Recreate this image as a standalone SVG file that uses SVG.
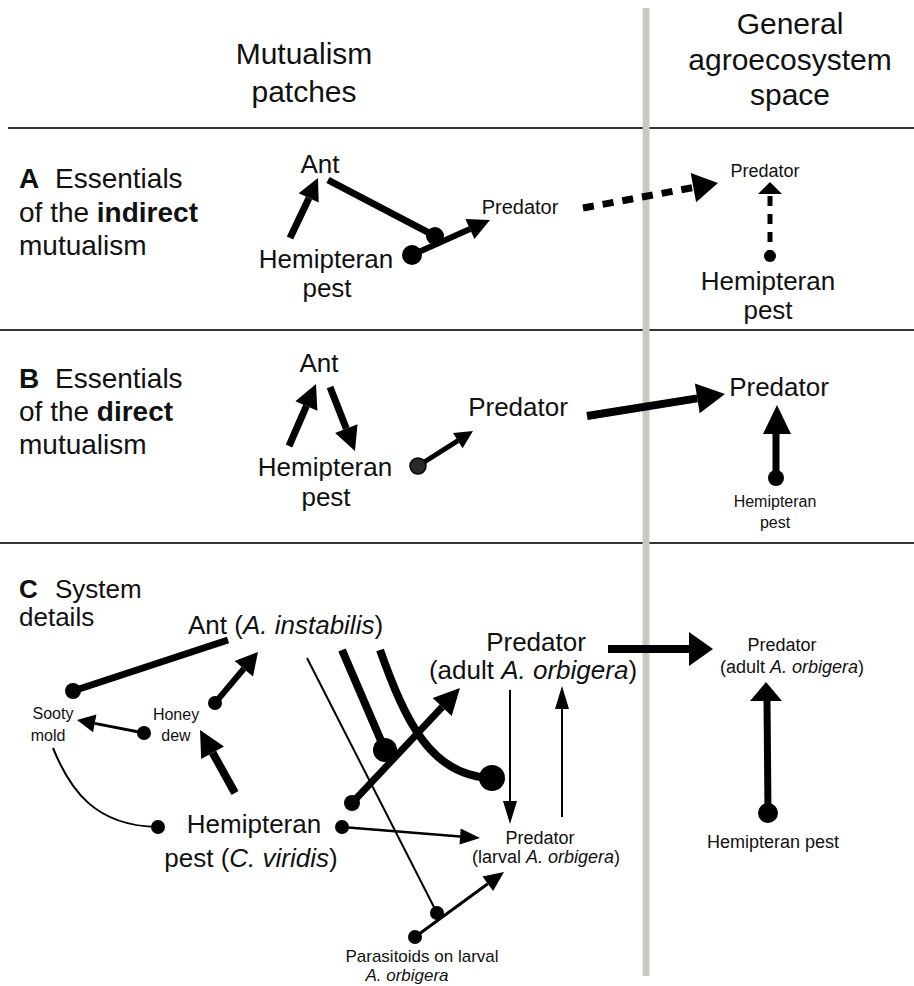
<svg xmlns="http://www.w3.org/2000/svg" width="914" height="986" viewBox="0 0 914 986">
<style>
text{font-family:"Liberation Sans",Arial,sans-serif;fill:#111}
.h{font-size:30px;text-anchor:middle}
.lab{font-size:28px}
.n26{font-size:26px;text-anchor:middle}
.n20{font-size:20px;text-anchor:middle}
.n18{font-size:18px;text-anchor:middle}
.n17{font-size:17px;text-anchor:middle}
.n16{font-size:16px;text-anchor:middle}
.b{font-weight:bold}
.sep{stroke:#333;stroke-width:2}
.ln{stroke:#000;fill:none;stroke-linecap:butt}
.hd{fill:#000}
</style>
<rect width="914" height="986" fill="#fff"/>
<g id="grid">
<line class="sep" x1="8" y1="128" x2="914" y2="128"/>
<line class="sep" x1="0" y1="330" x2="914" y2="330"/>
<line class="sep" x1="0" y1="543" x2="914" y2="543"/>
<line x1="646" y1="8" x2="646" y2="976" stroke="#cbc7c3" stroke-width="7"/>
</g>
<g id="headers">
<text class="h" x="304" y="64">Mutualism</text>
<text class="h" x="304" y="102">patches</text>
<text class="h" x="790" y="34">General</text>
<text class="h" x="790" y="70">agroecosystem</text>
<text class="h" x="790" y="105">space</text>
</g>
<g id="labelA">
<text class="lab b" x="19" y="188">A</text><text class="lab" x="55" y="188">Essentials</text>
<text class="lab" x="19" y="222">of the <tspan class="b">indirect</tspan></text>
<text class="lab" x="19" y="255">mutualism</text>
</g>
<g id="labelB">
<text class="lab b" x="19" y="388">B</text><text class="lab" x="55" y="388">Essentials</text>
<text class="lab" x="19" y="421">of the <tspan class="b">direct</tspan></text>
<text class="lab" x="19" y="454">mutualism</text>
</g>
<g id="labelC">
<text class="b" x="19" y="598" font-size="26">C</text><text x="55" y="598" font-size="26">System</text>
<text x="19" y="626" font-size="26">details</text>
</g>
<!-- Section A nodes -->
<g id="A-ant"><text class="n26" x="320" y="173">Ant</text></g>
<g id="A-pest"><text class="n26" x="326" y="268">Hemipteran</text><text class="n26" x="327" y="297">pest</text></g>
<g id="A-predator"><text class="n20" x="520" y="214">Predator</text></g>
<g id="A-predator-gen"><text class="n18" x="765" y="177">Predator</text></g>
<g id="A-pest-gen"><text class="n26" x="768" y="290">Hemipteran</text><text class="n26" x="768" y="319">pest</text></g>
<!-- Section B nodes -->
<g id="B-ant"><text class="n26" x="319" y="372">Ant</text></g>
<g id="B-pest"><text class="n26" x="325" y="476">Hemipteran</text><text class="n26" x="326" y="506">pest</text></g>
<g id="B-predator"><text class="n26" x="518" y="416">Predator</text></g>
<g id="B-predator-gen"><text class="n26" x="779" y="396">Predator</text></g>
<g id="B-pest-gen"><text class="n16" x="775" y="507">Hemipteran</text><text class="n16" x="775" y="528">pest</text></g>
<!-- Section C nodes -->
<g id="C-ant"><text x="188" y="634" font-size="26">Ant (<tspan font-style="italic">A. instabilis</tspan>)</text></g>
<g id="C-sooty"><text class="n16" x="53" y="719">Sooty</text><text class="n16" x="48" y="741">mold</text></g>
<g id="C-honey"><text class="n16" x="176" y="720">Honey</text><text class="n16" x="176" y="741">dew</text></g>
<g id="C-pest"><text class="n26" x="254" y="833">Hemipteran</text><text class="n26" x="251" y="867">pest (<tspan font-style="italic">C. viridis</tspan>)</text></g>
<g id="C-predator-adult"><text class="n26" x="536" y="651">Predator</text><text class="n26" x="533" y="679">(adult <tspan font-style="italic">A. orbigera</tspan>)</text></g>
<g id="C-predator-larval"><text class="n18" x="540" y="844">Predator</text><text class="n18" x="546" y="863">(larval <tspan font-style="italic">A. orbigera</tspan>)</text></g>
<g id="C-parasitoids"><text class="n17" x="422" y="962">Parasitoids on larval</text><text class="n17" x="407" y="981" font-style="italic">A. orbigera</text></g>
<g id="C-predator-gen"><text class="n18" x="782" y="651">Predator</text><text class="n18" x="792" y="673">(adult <tspan font-style="italic">A. orbigera</tspan>)</text></g>
<g id="C-pest-gen"><text class="n18" x="773" y="848">Hemipteran pest</text></g>
<g id="connectors">
<!-- A -->
<line class="ln" x1="290" y1="238" x2="309" y2="198" stroke-width="7"/>
<polygon class="hd" points="318,178 318.7,202.6 298.7,193.2"/>
<line class="ln" x1="328" y1="180" x2="435" y2="236" stroke-width="7"/>
<circle cx="435" cy="236" r="9"/>
<circle cx="412" cy="255" r="10"/>
<line class="ln" x1="412" y1="255" x2="470" y2="229" stroke-width="6"/>
<polygon class="hd" points="490,220 474.4,239 465.4,219"/>
<line class="ln" x1="583" y1="208" x2="693" y2="187.6" stroke-width="7" stroke-dasharray="11 9"/>
<polygon class="hd" points="718,183 696.1,202.3 690.7,172.9"/>
<polygon class="hd" points="770,182 782,194 758,194"/>
<line class="ln" x1="770" y1="196" x2="770" y2="252" stroke-width="5" stroke-dasharray="10 8"/>
<circle cx="770" cy="256" r="6"/>
<!-- B -->
<line class="ln" x1="289" y1="446" x2="306.4" y2="406" stroke-width="7"/>
<polygon class="hd" points="316,384 317.4,410.8 295.4,401.2"/>
<line class="ln" x1="330" y1="387" x2="346.3" y2="428.6" stroke-width="7"/>
<polygon class="hd" points="355,451 335.1,433 357.5,424.2"/>
<line class="ln" x1="418" y1="466" x2="458" y2="440.7" stroke-width="5"/>
<polygon class="hd" points="473,431 462.6,448.3 453,433.1"/>
<circle cx="418" cy="466" r="8" fill="#2a2a2a" stroke="#000" stroke-width="1.5"/>
<line class="ln" x1="587" y1="416" x2="697.3" y2="398.4" stroke-width="8"/>
<polygon class="hd" points="725,394 699.7,413.2 694.9,383.6"/>
<polygon class="hd" points="777,405 791,434 763,434"/>
<line class="ln" x1="776" y1="432" x2="776" y2="478" stroke-width="7"/>
<circle cx="776" cy="478" r="8"/>
<!-- C -->
<line class="ln" x1="228" y1="640" x2="73" y2="691" stroke-width="7"/>
<circle cx="73" cy="691" r="8"/>
<line class="ln" x1="144" y1="733" x2="94.7" y2="723.4" stroke-width="3"/>
<polygon class="hd" points="77,720 96.4,714.6 93,732.2"/>
<circle cx="144" cy="733" r="7"/>
<line class="ln" x1="215" y1="703" x2="243.8" y2="668.8" stroke-width="6"/>
<polygon class="hd" points="258,652 253,676.5 234.6,661.1"/>
<circle cx="215" cy="703" r="7"/>
<line class="ln" x1="235" y1="793" x2="212.6" y2="752.7" stroke-width="8"/>
<polygon class="hd" points="200,730 224,746.4 201.2,759"/>
<path class="ln" d="M53,748 C70,790 95,826 158,827" stroke-width="2"/>
<circle cx="158" cy="827" r="7"/>
<line class="ln" x1="342" y1="827" x2="460.1" y2="836.4" stroke-width="2.5"/>
<polygon class="hd" points="480,838 459.5,844.4 460.7,828.4"/>
<circle cx="342" cy="827" r="7"/>
<line class="ln" x1="307" y1="658" x2="437" y2="913" stroke-width="2"/>
<line class="ln" x1="342" y1="650" x2="385" y2="750" stroke-width="8"/>
<circle cx="385" cy="750" r="12"/>
<path class="ln" d="M380,650 C405,720 430,775 490,778" stroke-width="8"/>
<circle cx="492" cy="778" r="13"/>
<line class="ln" x1="352" y1="803" x2="442.2" y2="707" stroke-width="7"/>
<polygon class="hd" points="460,688 451.7,715.9 432.7,698.1"/>
<circle cx="352" cy="803" r="8"/>
<line class="ln" x1="415" y1="937" x2="487.8" y2="883.8" stroke-width="3"/>
<polygon class="hd" points="504,872 493.1,891.1 482.5,876.5"/>
<circle cx="415" cy="937" r="7"/>
<circle cx="437" cy="913" r="7"/>
<line class="ln" x1="510" y1="690" x2="510" y2="802" stroke-width="2"/>
<polygon class="hd" points="510,824 503,801 517,801"/>
<line class="ln" x1="562" y1="817" x2="562" y2="708" stroke-width="2"/>
<polygon class="hd" points="562,686 555,709 569,709"/>
<line class="ln" x1="608" y1="649" x2="691" y2="649" stroke-width="8"/>
<polygon class="hd" points="713,649 689,632 689,666"/>
<polygon class="hd" points="766,682 782,701 750,701"/>
<line class="ln" x1="767" y1="699" x2="768" y2="813" stroke-width="7"/>
<circle cx="768" cy="813" r="10"/>
</g>
</svg>
